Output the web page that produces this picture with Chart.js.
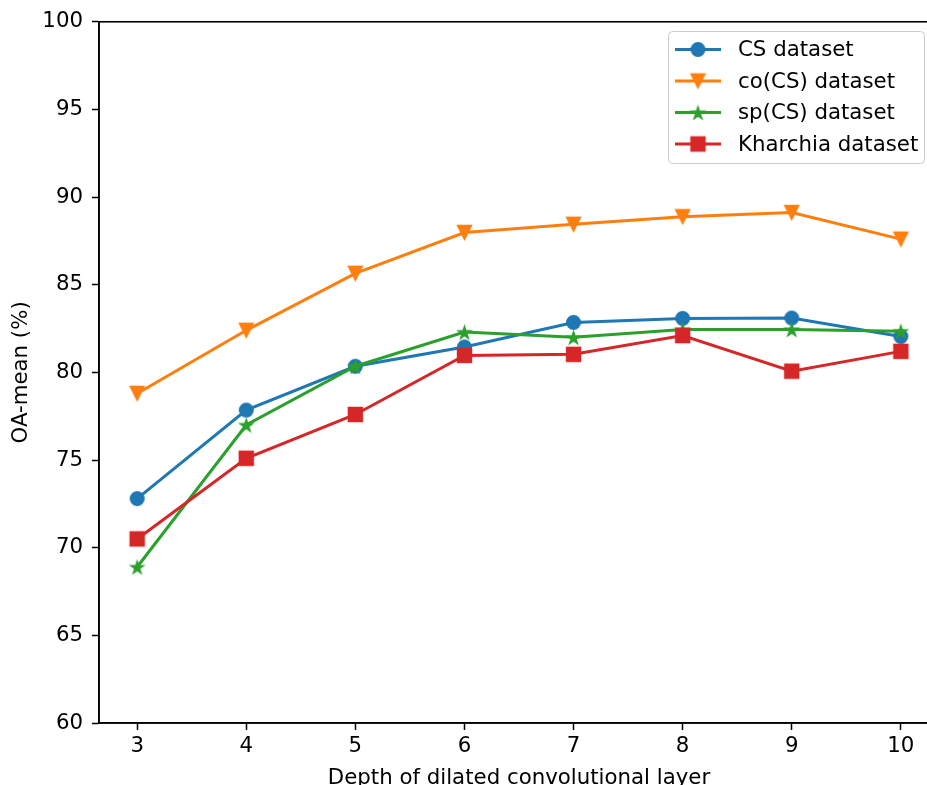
<!DOCTYPE html>
<html>
<head>
<meta charset="utf-8">
<script src="https://cdn.jsdelivr.net/npm/chart.js@4"></script>
<style>
  html, body { margin: 0; padding: 0; background: #fff; overflow: hidden; }
  #wrap { width: 927px; height: 785px; overflow: hidden; }
</style>
</head>
<body>
<div id="wrap"><canvas id="chart" width="950" height="800"></canvas></div>
<script>
// x values (depth of dilated conv layer)
const depths = [3, 4, 5, 6, 7, 8, 9, 10];
const xTicks = [3, 4, 5, 6, 7, 8, 9, 10];

// OA-mean (%)
const csValues = [72.8, 77.85, 80.35, 81.45, 82.85, 83.08, 83.1, 82.05];
const coCsValues = [78.8, 82.4, 85.65, 87.98, 88.45, 88.88, 89.12, 87.6];
const spCsValues = [68.9, 77.0, 80.35, 82.3, 82.0, 82.45, 82.45, 82.35];
const kharchiaValues = [70.5, 75.1, 77.6, 80.97, 81.03, 82.1, 80.07, 81.2];

const seriesNames = ["CS dataset", "co(CS) dataset", "sp(CS) dataset", "Kharchia dataset"];
const seriesColors = ["#1f77b4", "#ff7f0e", "#2ca02c", "#d62728"];
const seriesShapes = ["circle", "triangleDown", "star", "square"];

const FONT = "'DejaVu Sans', sans-serif";
const FONT_SIZE = 21.3;

// matplotlib-like markers drawn into small canvases
function makeMarker(shape, color) {
  const size = 19;
  const c = document.createElement("canvas");
  c.width = size;
  c.height = size;
  const ctx = c.getContext("2d");
  const m = size / 2;
  ctx.fillStyle = color;
  ctx.strokeStyle = color;
  ctx.lineWidth = 1.4;
  ctx.lineJoin = "miter";
  ctx.beginPath();
  if (shape === "circle") {
    ctx.arc(m, m, 6.8, 0, Math.PI * 2);
  } else if (shape === "square") {
    ctx.rect(m - 7, m - 7, 14, 14);
  } else if (shape === "triangleDown") {
    ctx.moveTo(m - 7, m - 7);
    ctx.lineTo(m + 7, m - 7);
    ctx.lineTo(m, m + 7);
    ctx.closePath();
  } else if (shape === "star") {
    const outer = 6.6, inner = outer * 0.381966;
    for (let i = 0; i < 10; i++) {
      const r = i % 2 === 0 ? outer : inner;
      const a = -Math.PI / 2 + i * Math.PI / 5;
      const px = m + r * Math.cos(a), py = m + r * Math.sin(a) + 0.8;
      if (i === 0) ctx.moveTo(px, py); else ctx.lineTo(px, py);
    }
    ctx.closePath();
  }
  ctx.fill();
  ctx.stroke();
  return c;
}

const markers = seriesShapes.map((s, i) => makeMarker(s, seriesColors[i]));
const allValues = [csValues, coCsValues, spCsValues, kharchiaValues];

const datasets = allValues.map((vals, i) => ({
  label: seriesNames[i],
  data: depths.map((d, j) => ({ x: d, y: vals[j] })),
  borderColor: seriesColors[i],
  backgroundColor: seriesColors[i],
  borderWidth: 3,
  pointStyle: markers[i],
  pointRadius: 7,
  pointHoverRadius: 7,
  tension: 0,
  order: allValues.length - i,
}));

// frame on all four sides (matplotlib spines)
const framePlugin = {
  id: "frame",
  afterDraw(chart) {
    const { ctx, chartArea: a } = chart;
    ctx.save();
    ctx.strokeStyle = "#000";
    ctx.lineWidth = 1.6;
    ctx.strokeRect(a.left, a.top, a.right - a.left, a.bottom - a.top);
    ctx.restore();
  },
};

// legend box in the upper right, matplotlib style
const legendPlugin = {
  id: "mplLegend",
  afterDraw(chart) {
    const ctx = chart.ctx;
    const box = { x: 668.5, y: 31.5, w: 256, h: 132 };
    ctx.save();
    ctx.beginPath();
    ctx.roundRect(box.x, box.y, box.w, box.h, 4);
    ctx.fillStyle = "rgba(255,255,255,0.8)";
    ctx.fill();
    ctx.strokeStyle = "#cccccc";
    ctx.lineWidth = 1;
    ctx.stroke();
    const rowY = [49.5, 81, 112.5, 144];
    ctx.font = FONT_SIZE + "px " + FONT;
    ctx.textBaseline = "middle";
    seriesNames.forEach((name, i) => {
      ctx.strokeStyle = seriesColors[i];
      ctx.lineWidth = 3;
      ctx.beginPath();
      ctx.moveTo(675, rowY[i]);
      ctx.lineTo(721, rowY[i]);
      ctx.stroke();
      const mk = markers[i];
      ctx.drawImage(mk, 698 - mk.width / 2, rowY[i] - mk.height / 2);
      ctx.fillStyle = "#000";
      ctx.fillText(name, 738, rowY[i] + 1);
    });
    ctx.restore();
  },
};

new Chart(document.getElementById("chart"), {
  type: "line",
  data: { datasets },
  options: {
    responsive: false,
    animation: false,
    layout: { padding: { top: 21, right: 11, left: 0, bottom: 0 } },
    plugins: {
      legend: { display: false },
      tooltip: { enabled: false },
    },
    scales: {
      x: {
        type: "linear",
        min: 2.65,
        max: 10.35,
        afterBuildTicks: (scale) => {
          scale.ticks = xTicks.map((v) => ({ value: v }));
        },
        afterFit: (scale) => {
          scale.height = 77;
        },
        grid: { drawOnChartArea: false, drawTicks: true, tickLength: 7, tickWidth: 1.5, tickColor: "#000" },
        border: { display: true, color: "#000", width: 1.6 },
        ticks: { color: "#000", font: { family: FONT, size: FONT_SIZE }, padding: 4, maxRotation: 0 },
        title: {
          display: true,
          text: "Depth of dilated convolutional layer",
          color: "#000",
          font: { family: FONT, size: FONT_SIZE },
          padding: { top: 0, bottom: 9 },
        },
      },
      y: {
        min: 60,
        max: 100,
        afterFit: (scale) => {
          scale.width = 99;
        },
        grid: { drawOnChartArea: false, drawTicks: true, tickLength: 7, tickWidth: 1.5, tickColor: "#000" },
        border: { display: true, color: "#000", width: 1.6 },
        ticks: { stepSize: 5, color: "#000", font: { family: FONT, size: FONT_SIZE }, padding: 9 },
        title: {
          display: true,
          text: "OA-mean (%)",
          color: "#000",
          font: { family: FONT, size: FONT_SIZE },
          padding: { top: 9, bottom: 0 },
        },
      },
    },
  },
  plugins: [framePlugin, legendPlugin],
});
</script>
</body>
</html>
